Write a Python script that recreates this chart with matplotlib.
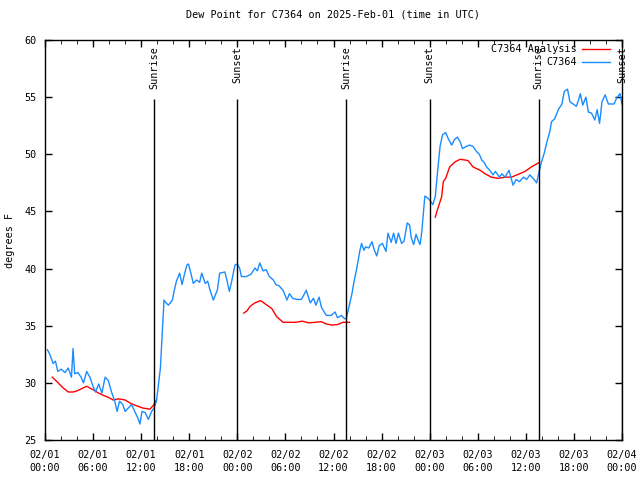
import numpy as np
import matplotlib
matplotlib.use('Agg')
import matplotlib.pyplot as plt

# hours since 2025-02-01 00:00 UTC
obs_hours = [0.3, 0.6, 1.0, 1.3, 1.6, 2.0, 2.5, 2.9, 3.3, 3.5, 3.7, 4.1, 4.5, 4.8, 5.2, 5.6,
             6.0, 6.3, 6.7, 7.1, 7.5, 7.9, 8.3, 8.7, 9.0, 9.3, 9.7, 10.0, 10.4, 10.8, 11.2,
             11.6, 11.85, 12.1, 12.5, 12.9, 13.3, 13.6, 13.9, 14.1, 14.4, 14.7, 14.85, 15.1,
             15.4, 15.9, 16.1, 16.4, 16.8, 17.1, 17.4, 17.7, 17.9, 18.2, 18.5, 18.9, 19.3,
             19.55, 20.0, 20.3, 20.6, 21.0, 21.5, 21.8, 22.45, 22.7, 23.0, 23.3, 23.7, 24.0,
             24.3, 24.5, 25.1, 25.7, 26.2, 26.5, 26.8, 27.2, 27.6, 28.0, 28.5, 28.8, 29.2,
             29.7, 30.2, 30.5, 30.9, 31.4, 32.0, 32.6, 33.1, 33.5, 33.8, 34.2, 34.5, 35.1,
             35.7, 36.2, 36.5, 37.0, 37.4, 37.6, 37.85, 38.3, 38.6, 38.9, 39.3, 39.5, 39.8,
             40.0, 40.4, 40.8, 41.1, 41.4, 41.7, 42.1, 42.55, 42.8, 43.2, 43.5, 43.8, 44.1,
             44.5, 44.8, 45.2, 45.5, 45.7, 46.0, 46.3, 46.5, 46.8, 47.0, 47.4, 47.7, 48.0,
             48.4, 48.7, 49.0, 49.3, 49.6, 50.0, 50.3, 50.75, 51.1, 51.45, 51.8, 52.1, 52.6,
             53.0, 53.4, 53.9, 54.2, 54.5, 54.8, 55.1, 55.5, 55.9, 56.2, 56.7, 57.0, 57.4,
             57.9, 58.4, 58.8, 59.2, 59.7, 60.1, 60.5, 60.9, 61.35, 61.6, 61.9, 62.3, 62.6,
             63.0, 63.2, 63.6, 64.05, 64.5, 64.8, 65.2, 65.5, 65.9, 66.3, 66.6, 66.8, 67.1,
             67.5, 67.8, 68.2, 68.6, 68.9, 69.2, 69.5, 69.9, 70.3, 71.0, 71.4, 71.75, 72.0]
obs_dewpt = [32.9, 32.5, 31.7, 31.9, 31.0, 31.2, 30.9, 31.3, 30.5, 33.0, 30.8, 30.9, 30.5, 30.0,
             31.0, 30.5, 29.7, 29.2, 29.9, 29.1, 30.5, 30.2, 29.2, 28.4, 27.5, 28.4, 28.1,
             27.5, 27.8, 28.1, 27.5, 26.9, 26.4, 27.5, 27.4, 26.8, 27.5, 27.8, 28.4, 29.5,
             31.3, 35.2, 37.25, 37.0, 36.8, 37.25, 38.0, 38.9, 39.6, 38.6, 39.5, 40.3, 40.4,
             39.6, 38.7, 39.0, 38.8, 39.6, 38.7, 38.9, 38.1, 37.25, 38.1, 39.6, 39.7, 39.0,
             38.0, 38.9, 40.3, 40.4, 40.0, 39.3, 39.3, 39.5, 40.05, 39.8, 40.5, 39.8, 39.9,
             39.3, 39.0, 38.6, 38.5, 38.1, 37.25, 37.8, 37.4, 37.3, 37.3, 38.1, 37.0, 37.4,
             36.8, 37.5, 36.6, 35.9, 35.9, 36.2, 35.7, 35.9, 35.6, 35.65, 36.4, 37.8, 39.0,
             40.0, 41.6, 42.2, 41.6, 41.9, 41.8, 42.35, 41.6, 41.1, 42.0, 42.2, 41.5, 43.1,
             42.3, 43.1, 42.2, 43.1, 42.2, 42.4, 44.0, 43.8, 42.7, 42.1, 43.0, 42.6, 42.1,
             43.1, 46.35, 46.2, 46.0, 45.6, 46.3, 48.6, 50.7, 51.7, 51.9, 51.4, 50.8, 51.3,
             51.5, 51.1, 50.5, 50.7, 50.8, 50.7, 50.2, 50.0, 49.5, 49.3, 48.9, 48.6, 48.2,
             48.5, 48.0, 48.3, 48.0, 48.6, 47.3, 47.8, 47.6, 48.0, 47.8, 48.2, 47.9, 47.5,
             48.3, 49.2, 50.1, 51.0, 52.0, 52.85, 53.1, 53.9, 54.4, 55.5, 55.7, 54.6, 54.4,
             54.2, 54.8, 55.3, 54.3, 55.0, 53.7, 53.6, 53.0, 53.9, 52.7, 54.6, 55.2, 54.4,
             54.4, 55.0, 55.3, 54.4]

# analysis, NaN separates the daytime segments
ana_hours = [0.9, 1.5, 2.2, 2.9, 3.5, 4.0, 4.6, 5.2, 6.0, 6.7, 7.3, 8.0, 8.5, 9.2, 10.0, 10.7,
             11.4, 12.2, 13.1, 13.6, 13.9, 19.0,
             24.8, 25.2, 25.6, 26.2, 26.9, 27.3, 27.7, 28.3, 28.9, 29.7, 30.5, 31.3, 32.1,
             32.9, 33.7, 34.5, 35.1, 35.8, 36.5, 37.2, 38.0, 43.0,
             48.7, 48.95, 49.5, 49.7, 50.0, 50.5, 51.2, 51.8, 52.4, 52.8, 53.4, 54.3, 54.9,
             55.7, 56.5, 57.5, 58.2, 58.9, 59.9, 60.7, 61.7]
ana_dewpt = [30.5, 30.1, 29.6, 29.2, 29.2, 29.3, 29.5, 29.7, 29.4, 29.1, 28.9, 28.7, 28.5,
             28.6, 28.5, 28.2, 28.0, 27.8, 27.7, 28.1, 28.5, np.nan,
             36.1, 36.3, 36.7, 37.0, 37.2, 37.0, 36.8, 36.5, 35.8, 35.3, 35.3, 35.3, 35.4,
             35.25, 35.3, 35.35, 35.15, 35.06, 35.1, 35.3, 35.3, np.nan,
             44.5, 45.1, 46.3, 47.6, 47.9, 48.9, 49.35, 49.56, 49.5, 49.44, 48.9, 48.6, 48.3,
             48.0, 47.9, 48.0, 48.0, 48.2, 48.5, 48.9, 49.3]

sun_hours = [13.6, 24.0, 37.6, 48.0, 61.6, 72.0]
sun_labels = ['Sunrise', 'Sunset', 'Sunrise', 'Sunset', 'Sunrise', 'Sunset']

tick_hours = list(range(0, 73, 6))
tick_labels = ['02/01\n00:00', '02/01\n06:00', '02/01\n12:00', '02/01\n18:00',
               '02/02\n00:00', '02/02\n06:00', '02/02\n12:00', '02/02\n18:00',
               '02/03\n00:00', '02/03\n06:00', '02/03\n12:00', '02/03\n18:00',
               '02/04\n00:00']

plt.rcParams['font.family'] = 'DejaVu Sans Mono'
plt.rcParams['font.size'] = 7.3

fig = plt.figure(figsize=(6.4, 4.8), dpi=100)
ax = fig.add_axes([45 / 640, 40 / 480, 577 / 640, 400 / 480])

ax.plot(ana_hours, ana_dewpt, color='#ff0000', lw=1)
ax.plot(obs_hours, obs_dewpt, color='#1a8cff', lw=1)

for h, lab in zip(sun_hours, sun_labels):
    ax.vlines(h, 25, 54.8, color='black', lw=1)
    ax.text(h, 59.45, lab, rotation=90, ha='center', va='top', fontsize=7.3)

ax.set_xlim(0, 72)
ax.set_ylim(25, 60)
ax.set_xticks(tick_hours)
ax.set_xticklabels(tick_labels, linespacing=1.45)
ax.set_xticks(range(0, 73, 2), minor=True)
ax.set_yticks(range(25, 61, 5))
ax.tick_params(direction='in', top=True, right=True, length=5, width=1)
ax.tick_params(which='minor', direction='in', top=True, length=3)
ax.tick_params(axis='x', pad=7)
ax.tick_params(axis='y', pad=6)
for s in ax.spines.values():
    s.set_linewidth(1)

ax.set_ylabel('degrees F', labelpad=7)
ax.set_title('Dew Point for C7364 on 2025-Feb-01 (time in UTC)', fontsize=7.3, pad=16)

# key, gnuplot style: right-aligned text, sample line after it
key = [('C7364 Analysis', '#ff0000', 0.9775), ('C7364', '#1a8cff', 0.945)]
for lab, col, yy in key:
    ax.text(0.922, yy, lab, transform=ax.transAxes, ha='right', va='center', fontsize=7.3)
    ax.plot([0.931, 0.979], [yy, yy], color=col, lw=1, transform=ax.transAxes)

fig.savefig('out.png', dpi=100)
